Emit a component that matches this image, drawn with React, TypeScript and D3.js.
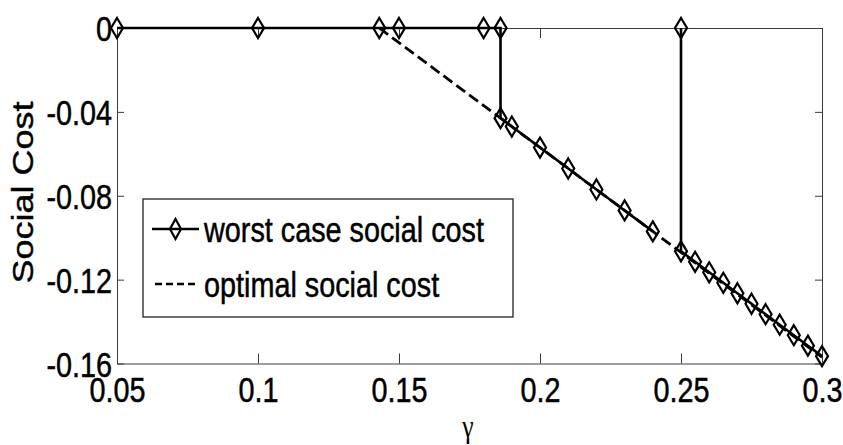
import * as d3 from "d3";
import React, { useEffect, useRef } from "react";

// worst case social cost: two runs, split at the jump near 0.25
const worstGammaA = [0.05, 0.1, 0.143, 0.15, 0.18, 0.186, 0.186, 0.19, 0.2, 0.21, 0.22, 0.23, 0.24];
const worstCostA = [0, 0, 0, 0, 0, 0, -0.043, -0.047, -0.057, -0.067, -0.077, -0.087, -0.097];
const worstGammaB = [0.25, 0.25, 0.255, 0.26, 0.265, 0.27, 0.275, 0.28, 0.285, 0.29, 0.295, 0.3];
const worstCostB = [0, -0.1065, -0.1115, -0.1165, -0.1215, -0.1265, -0.1315, -0.1365, -0.1415, -0.1465, -0.1515, -0.1565];

// optimal social cost
const optGamma = [0.143, 0.3];
const optCost = [0, -0.157];

const xTicks = [0.05, 0.1, 0.15, 0.2, 0.25, 0.3];
const xTickLabels = ["0.05", "0.1", "0.15", "0.2", "0.25", "0.3"];
const yTicks = [0, -0.04, -0.08, -0.12, -0.16];
const yTickLabels = ["0", "-0.04", "-0.08", "-0.12", "-0.16"];
const legendLabels = ["worst case social cost", "optimal social cost"];

export default function App() {
  const ref = useRef<SVGSVGElement>(null);
  const width = 843;
  const height = 445;

  useEffect(() => {
    const svg = d3.select(ref.current);
    svg.selectAll("*").remove();

    const font = "'Liberation Sans', Arial, sans-serif";
    const sx = 0.8; // the picture is squeezed sideways
    const axisColor = "#3a3a3a";
    const textStroke = 0.5; // glyphs look a bit heavier in the original

    const x = d3.scaleLinear().domain([0.05, 0.3]).range([117, 822]);
    const y = d3.scaleLinear().domain([-0.16, 0]).range([363.5, 28]);

    // box and ticks
    const bottom = svg
      .append("g")
      .attr("transform", `translate(0,${y(-0.16)})`)
      .call(
        d3.axisBottom(x).tickValues(xTicks).tickSizeInner(-10).tickSizeOuter(0)
          .tickFormat((_, i) => xTickLabels[i])
      );
    bottom
      .selectAll("text")
      .attr("y", 39)
      .attr("dy", null)
      .attr("transform", `scale(${sx},1)`)
      .style("font-size", "36px")
      .style("font-family", font)
      .attr("fill", "#000")
      .attr("stroke", "#000")
      .attr("stroke-width", textStroke);

    const left = svg
      .append("g")
      .attr("transform", `translate(${x(0.05)},0)`)
      .call(
        d3.axisLeft(y).tickValues(yTicks).tickSizeInner(-7).tickSizeOuter(0)
          .tickFormat((_, i) => yTickLabels[i])
      );
    left
      .selectAll("text")
      .attr("x", -5 / sx)
      .attr("dy", "0.36em")
      .attr("transform", `scale(${sx},1)`)
      .style("font-size", "36px")
      .style("font-family", font)
      .attr("fill", "#000")
      .attr("stroke", "#000")
      .attr("stroke-width", textStroke);

    svg
      .append("g")
      .attr("transform", `translate(0,${y(0)})`)
      .call(d3.axisTop(x).tickValues(xTicks).tickSizeInner(-10).tickSizeOuter(0).tickFormat(() => ""));
    svg
      .append("g")
      .attr("transform", `translate(${x(0.3)},0)`)
      .call(d3.axisRight(y).tickValues(yTicks).tickSizeInner(-7).tickSizeOuter(0).tickFormat(() => ""));

    svg.selectAll(".domain, .tick line").attr("stroke", axisColor).attr("stroke-width", 1);

    // optimal line (dashed) under the worst case line
    const line = d3
      .line<number[]>()
      .x((d) => x(d[0]))
      .y((d) => y(d[1]));

    svg
      .append("path")
      .datum(optGamma.map((g, i) => [g, optCost[i]]))
      .attr("d", line)
      .attr("fill", "none")
      .attr("stroke", "#000")
      .attr("stroke-width", 2.8)
      .attr("stroke-dasharray", "11,5");

    const runs = [
      worstGammaA.map((g, i) => [g, worstCostA[i]]),
      worstGammaB.map((g, i) => [g, worstCostB[i]]),
    ];

    const diamond = (cx: number, cy: number, w: number, h: number) =>
      `M${cx},${cy - h}L${cx + w},${cy}L${cx},${cy + h}L${cx - w},${cy}Z`;

    runs.forEach((run) => {
      svg
        .append("path")
        .datum(run)
        .attr("d", line)
        .attr("fill", "none")
        .attr("stroke", "#000")
        .attr("stroke-width", 2.6);

      svg
        .append("g")
        .selectAll("path")
        .data(run)
        .join("path")
        .attr("d", (d) => diamond(x(d[0]), y(d[1]), 6, 10))
        .attr("fill", "none")
        .attr("stroke", "#000")
        .attr("stroke-width", 2.2);
    });

    // legend
    const lg = svg.append("g");
    lg.append("rect")
      .attr("x", 143)
      .attr("y", 199)
      .attr("width", 370)
      .attr("height", 118)
      .attr("fill", "#fff")
      .attr("stroke", "#222")
      .attr("stroke-width", 1.3);

    const rows = [229, 284];
    lg.append("line")
      .attr("x1", 152).attr("x2", 199)
      .attr("y1", rows[0]).attr("y2", rows[0])
      .attr("stroke", "#000").attr("stroke-width", 2.6);
    lg.append("path")
      .attr("d", diamond(175.5, rows[0], 5.5, 10))
      .attr("fill", "none")
      .attr("stroke", "#000")
      .attr("stroke-width", 2.2);
    lg.append("line")
      .attr("x1", 155).attr("x2", 199)
      .attr("y1", rows[1]).attr("y2", rows[1])
      .attr("stroke", "#000").attr("stroke-width", 2.6)
      .attr("stroke-dasharray", "7,4");

    legendLabels.forEach((label, i) => {
      lg.append("text")
        .attr("transform", `translate(204,${rows[i] + 12.5}) scale(${sx},1)`)
        .style("font-size", "36px")
        .style("font-family", font)
        .attr("fill", "#000")
        .attr("stroke", "#000")
        .attr("stroke-width", textStroke)
        .text(label);
    });

    // axis titles
    svg
      .append("text")
      .attr("transform", `translate(33,192.5) scale(${sx},1) rotate(-90)`)
      .attr("text-anchor", "middle")
      .style("font-size", "36px")
      .style("font-family", font)
      .attr("fill", "#000")
      .attr("stroke", "#000")
      .attr("stroke-width", textStroke)
      .text("Social Cost");

    svg
      .append("text")
      .attr("transform", `translate(468,437) scale(${sx},1)`)
      .attr("text-anchor", "middle")
      .style("font-size", "32px")
      .style("font-family", "'Liberation Serif', 'Times New Roman', serif")
      .attr("fill", "#000")
      .text("γ");
  }, []);

  return (
    <svg
      ref={ref}
      width={width}
      height={height}
      style={{ position: "absolute", left: 0, top: 0, background: "#fff" }}
    ></svg>
  );
}
